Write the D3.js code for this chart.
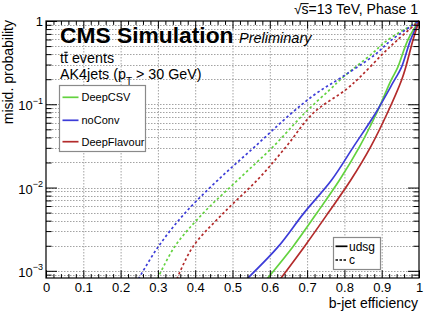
<!DOCTYPE html>
<html><head><meta charset="utf-8">
<script src="https://cdn.jsdelivr.net/npm/d3@7"></script>
<style>
body{margin:0;background:#fff}
svg{display:block;font-family:"Liberation Sans",Arial,Helvetica,sans-serif}
</style>
</head><body>
<svg id="c" width="428" height="316"></svg>
<script>
// ---- data (b-jet efficiency, misid. probability) ----
const deepCSV_udsg = [[0.5925,8e-4],[0.662,1.95e-3],[0.7256,4.9e-3],[0.787,0.0123],[0.8407,0.031],[0.8862,0.078],[0.9256,0.196],[0.9424,0.273],[0.970,0.59],[1,1]];
const noConv_udsg  = [[0.539,8e-4],[0.6225,1.95e-3],[0.6908,4.9e-3],[0.7657,0.0123],[0.8246,0.031],[0.8835,0.078],[0.9344,0.196],[0.9523,0.273],[0.9772,0.59],[1,1]];
const deepFlav_udsg= [[0.6284,8e-4],[0.6926,1.95e-3],[0.7557,4.9e-3],[0.8172,0.0123],[0.8707,0.031],[0.9149,0.078],[0.9534,0.196],[0.9639,0.273],[0.9839,0.59],[1,1]];
const deepCSV_c    = [[0.299,8e-4],[0.345,1.95e-3],[0.421,4.9e-3],[0.514,0.0123],[0.609,0.031],[0.693,0.078],[0.760,0.1485],[0.798,0.2144],[0.870,0.391],[0.916,0.591],[1,1]];
const noConv_c     = [[0.248,8e-4],[0.301,1.95e-3],[0.372,4.9e-3],[0.461,0.0123],[0.560,0.031],[0.658,0.078],[0.725,0.1355],[0.795,0.2144],[0.881,0.391],[0.926,0.591],[1,1]];
const deepFlav_c   = [[0.351,8e-4],[0.394,1.95e-3],[0.475,4.9e-3],[0.568,0.0125],[0.644,0.031],[0.716,0.078],[0.805,0.151],[0.843,0.2144],[0.900,0.391],[0.942,0.591],[1,1]];

const taggers = ["DeepCSV","noConv","DeepFlavour"];
const taggerColors = ["#63d23f","#3c3cd8","#b32b2b"];
const flavours = ["udsg","c"];
const xMajorTicks = [0,0.1,0.2,0.3,0.4,0.5,0.6,0.7,0.8,0.9,1];
const xTickLabels = ["0","0.1","0.2","0.3","0.4","0.5","0.6","0.7","0.8","0.9","1"];
const yMajorTicks = [1e-3,1e-2,1e-1,1];
const yTickBase = ["10","10","10","1"];
const yTickExp  = ["\u22123","\u22122","\u22121",""];

const series = [
  {data:deepCSV_udsg, t:0, f:0},{data:noConv_udsg, t:1, f:0},{data:deepFlav_udsg, t:2, f:0},
  {data:deepCSV_c, t:0, f:1},{data:noConv_c, t:1, f:1},{data:deepFlav_c, t:2, f:1}
];

// ---- layout ----
const L=46, R=419, T=21, B=278;
const svg = d3.select("#c");
const x = d3.scaleLinear().domain([0,1]).range([L,R]);
const y = d3.scaleLog().domain([8.2e-4,1]).range([B,T]);

const xMinor = d3.range(0,1.0001,0.02).map(v=>+v.toFixed(2)).filter(v=>xMajorTicks.indexOf(v)<0);
const yAll = [];
for (let d=-4; d<=0; d++) for (let k=1;k<=9;k++){const v=k*Math.pow(10,d); if(v>=8.2e-4 && v<=1.0001) yAll.push(v);}
const yMinor = yAll.filter(v=>!yMajorTicks.some(m=>Math.abs(m-v)/m<1e-6));

// grid
const grid = svg.append("g").attr("stroke","#a3a3a3").attr("stroke-width",1).attr("stroke-dasharray","1.5,1.5");
grid.selectAll(".gx").data(xMajorTicks.slice(1,-1)).join("line")
  .attr("x1",d=>x(d)+0.5).attr("x2",d=>x(d)+0.5).attr("y1",T).attr("y2",B);
grid.selectAll(".gy").data(yAll.filter(v=>v<1)).join("line")
  .attr("x1",L).attr("x2",R).attr("y1",d=>Math.round(y(d))+0.5).attr("y2",d=>Math.round(y(d))+0.5);

// curves
svg.append("clipPath").attr("id","clip").append("rect").attr("x",L).attr("y",T-1).attr("width",R-L).attr("height",B-T+1);
const line = d3.line().x(d=>x(d[0])).y(d=>y(d[1])).curve(d3.curveCatmullRom.alpha(0.5));
svg.append("g").attr("clip-path","url(#clip)").selectAll("path").data(series).join("path")
  .attr("d",s=>line(s.data)).attr("fill","none")
  .attr("stroke",s=>taggerColors[s.t]).attr("stroke-width",1.7)
  .attr("stroke-dasharray",s=>s.f===1?"2.5,2.5":null);

// axes (ticks inward)
function styleAxis(g){ g.select(".domain").remove(); g.selectAll(".tick line").attr("stroke","#000"); g.attr("font-family",null); }
svg.append("g").attr("transform",`translate(0,${B})`)
  .call(d3.axisBottom(x).tickValues(xMajorTicks).tickSize(-7.7).tickPadding(5).tickFormat((d,i)=>xTickLabels[i]))
  .call(styleAxis).attr("font-size",13).selectAll("text").attr("fill","#000");
svg.append("g").attr("transform",`translate(0,${B})`)
  .call(d3.axisBottom(x).tickValues(xMinor).tickSize(-3.9).tickFormat("")).call(styleAxis);
svg.append("g").attr("transform",`translate(0,${T})`)
  .call(d3.axisTop(x).tickValues(xMajorTicks).tickSize(-7.7).tickFormat("")).call(styleAxis);
svg.append("g").attr("transform",`translate(0,${T})`)
  .call(d3.axisTop(x).tickValues(xMinor).tickSize(-3.9).tickFormat("")).call(styleAxis);
svg.append("g").attr("transform",`translate(${L},0)`)
  .call(d3.axisLeft(y).tickValues(yMajorTicks).tickSize(-11).tickFormat("")).call(styleAxis);
svg.append("g").attr("transform",`translate(${L},0)`)
  .call(d3.axisLeft(y).tickValues(yMinor).tickSize(-5.6).tickFormat("")).call(styleAxis);
svg.append("g").attr("transform",`translate(${R},0)`)
  .call(d3.axisRight(y).tickValues(yMajorTicks).tickSize(-11).tickFormat("")).call(styleAxis);
svg.append("g").attr("transform",`translate(${R},0)`)
  .call(d3.axisRight(y).tickValues(yMinor).tickSize(-5.6).tickFormat("")).call(styleAxis);

// y tick labels with exponents
const yl = svg.append("g").attr("font-size",13).attr("text-anchor","end");
yMajorTicks.forEach((v,i)=>{
  const t = yl.append("text").attr("x",43).attr("y",y(v)+ (yTickExp[i]?6:5));
  t.append("tspan").text(yTickBase[i]);
  if (yTickExp[i]) t.append("tspan").attr("font-size",9).attr("dy",-6.5).text(yTickExp[i]);
});

// frame
svg.append("rect").attr("x",L).attr("y",T).attr("width",R-L).attr("height",B-T)
  .attr("fill","none").attr("stroke","#000").attr("stroke-width",1.2);

// axis titles
svg.append("text").attr("x",418).attr("y",308).attr("text-anchor","end").attr("font-size",14).text("b-jet efficiency");
svg.append("text").attr("transform","translate(13,20) rotate(-90)").attr("text-anchor","end").attr("font-size",14).text("misid. probability");

// header texts
svg.append("text").attr("x",60).attr("y",43.3).attr("font-size",22.8).attr("font-weight","bold").text("CMS Simulation");
svg.append("text").attr("x",239).attr("y",42.7).attr("font-size",14.5).attr("font-style","italic").text("Preliminary");
const en = svg.append("text").attr("x",418).attr("y",14.3).attr("text-anchor","end").attr("font-size",14).text("\u221As=13 TeV, Phase 1");
{
  const n = en.node(); const tot = n.getComputedTextLength();
  const s0 = 418 - tot + n.getSubStringLength(0,1), s1 = 418 - tot + n.getSubStringLength(0,2);
  svg.append("line").attr("x1",s0-0.8).attr("x2",s1).attr("y1",3.6).attr("y2",3.6).attr("stroke","#000").attr("stroke-width",1);
}
const tt = svg.append("text").attr("x",60).attr("y",62.7).attr("font-size",14.3).text("tt events");
{
  const n = tt.node(); const a = 60 + n.getSubStringLength(0,1), b = 60 + n.getSubStringLength(0,2);
  svg.append("line").attr("x1",a+0.3).attr("x2",b-0.3).attr("y1",52.3).attr("y2",52.3).attr("stroke","#000").attr("stroke-width",1.1);
}
const ak = svg.append("text").attr("x",60).attr("y",79).attr("font-size",14.3);
ak.append("tspan").text("AK4jets (p");
ak.append("tspan").attr("font-size",10).attr("dy",5.5).text("T");
ak.append("tspan").attr("dy",-5.5).text(" > 30 GeV)");

// legend 1 (taggers)
const lg1 = svg.append("g");
lg1.append("rect").attr("x",59.5).attr("y",85.5).attr("width",86).attr("height",66).attr("fill","#fff").attr("stroke","#8a8a8a").attr("stroke-width",1.2);
const lgY = [97.3,120.3,141.7];
taggers.forEach((name,i)=>{
  lg1.append("line").attr("x1",62.5).attr("x2",78.5).attr("y1",lgY[i]).attr("y2",lgY[i]).attr("stroke",taggerColors[i]).attr("stroke-width",1.7);
  lg1.append("text").attr("x",81.5).attr("y",lgY[i]+4).attr("font-size",11).text(name);
});

// legend 2 (flavours)
const lg2 = svg.append("g");
lg2.append("rect").attr("x",333.5).attr("y",237.5).attr("width",47).attr("height",32).attr("fill","#fff").attr("stroke","#8a8a8a").attr("stroke-width",1.2);
const lg2Y = [246.3,260];
flavours.forEach((name,i)=>{
  lg2.append("line").attr("x1",335.5).attr("x2",347.5).attr("y1",lg2Y[i]).attr("y2",lg2Y[i]).attr("stroke","#000").attr("stroke-width",1.7)
    .attr("stroke-dasharray",i===1?"2.5,1.5":null);
  lg2.append("text").attr("x",349).attr("y",lg2Y[i]+4.3).attr("font-size",12).text(name);
});
</script>
</body></html>
